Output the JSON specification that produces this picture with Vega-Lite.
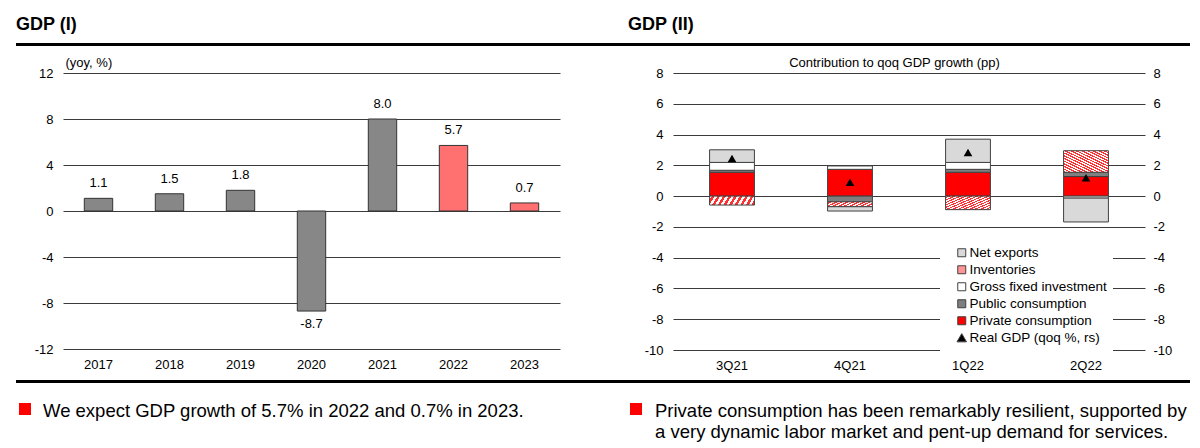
{
  "$schema": "https://vega.github.io/schema/vega-lite/v6.json",
  "background": "white",
  "padding": {"left": 16, "top": 16, "right": 0, "bottom": 0},
  "spacing": 10,
  "align": "none",
  "vconcat": [
    {
      "spacing": 0,
      "hconcat": [
        {
          "width": 612, "height": 3,
          "view": {"fill": "#000000", "stroke": null},
          "title": {"text": "GDP (I)", "anchor": "start", "fontSize": 18, "fontWeight": "bold", "color": "#000000", "baseline": "alphabetic", "offset": -5, "font": "Liberation Sans"},
          "data": {"values": []},
          "mark": {"type": "text", "text": ""},
          "encoding": {}
        },
        {
          "width": 562, "height": 3,
          "view": {"fill": "#000000", "stroke": null},
          "title": {"text": "GDP (II)", "anchor": "start", "fontSize": 18, "fontWeight": "bold", "color": "#000000", "baseline": "alphabetic", "offset": -5, "font": "Liberation Sans"},
          "data": {"values": []},
          "mark": {"type": "text", "text": ""},
          "encoding": {}
        }
      ]
    },
    {
      "spacing": 8,
      "align": "none",
      "vconcat": [
        {
          "spacing": 0,
          "hconcat": [
            {
              "width": 1, "height": 1,
              "data": {"values": []},
              "mark": {"type": "text", "text": ""},
              "encoding": {}
            },
            {
              "spacing": 40,
              "resolve": {"scale": {"color": "independent"}},
              "hconcat": [
                {
                  "width": 497, "height": 276,
                  "data": {"values": [
                    {"year": "2017", "gdp": 1.1, "type": "Actual"},
                    {"year": "2018", "gdp": 1.5, "type": "Actual"},
                    {"year": "2019", "gdp": 1.8, "type": "Actual"},
                    {"year": "2020", "gdp": -8.7, "type": "Actual"},
                    {"year": "2021", "gdp": 8.0, "type": "Actual"},
                    {"year": "2022", "gdp": 5.7, "type": "Forecast"},
                    {"year": "2023", "gdp": 0.7, "type": "Forecast"}
                  ]},
                  "layer": [
                    {
                      "mark": {"type": "bar", "stroke": "#333333", "strokeWidth": 1},
                      "encoding": {
                        "x": {"field": "year", "type": "ordinal", "scale": {"paddingInner": 0.6, "paddingOuter": 0.3}, "axis": {"title": null, "labelAngle": 0, "labelPadding": 9}},
                        "y": {"field": "gdp", "type": "quantitative", "scale": {"domain": [-12, 12], "nice": false},
                          "axis": {"values": [-12, -8, -4, 0, 4, 8, 12], "title": "(yoy, %)", "titleAngle": 0, "titleX": 2, "titleY": -11, "titleAlign": "left", "titleBaseline": "middle", "titleFontSize": 13, "titleFontWeight": "normal", "titleColor": "#000000", "labelPadding": 10, "minExtent": 46}},
                        "color": {"field": "type", "type": "nominal", "scale": {"domain": ["Actual", "Forecast"], "range": ["#878787", "#ff7070"]}, "legend": null}
                      }
                    },
                    {
                      "transform": [{"filter": "datum.gdp >= 0"}],
                      "mark": {"type": "text", "fontSize": 13, "color": "#000000", "baseline": "bottom", "dy": -8},
                      "encoding": {
                        "x": {"field": "year", "type": "ordinal"},
                        "y": {"field": "gdp", "type": "quantitative"},
                        "text": {"field": "gdp", "type": "quantitative", "format": ".1f"}
                      }
                    },
                    {
                      "transform": [{"filter": "datum.gdp < 0"}],
                      "mark": {"type": "text", "fontSize": 13, "color": "#000000", "baseline": "top", "dy": 7},
                      "encoding": {
                        "x": {"field": "year", "type": "ordinal"},
                        "y": {"field": "gdp", "type": "quantitative"},
                        "text": {"field": "gdp", "type": "quantitative", "format": ".1f"}
                      }
                    }
                  ]
                },
                {
                  "width": 472, "height": 277,
                  "layer": [
                    {
                      "data": {"values": [
                        {"q": "3Q21", "series": "Private consumption", "value": 1.55},
                        {"q": "3Q21", "series": "Public consumption", "value": 0.13},
                        {"q": "3Q21", "series": "Gross fixed investment", "value": 0.51},
                        {"q": "3Q21", "series": "Inventories", "value": -0.58},
                        {"q": "3Q21", "series": "Net exports", "value": 0.82},
                        {"q": "4Q21", "series": "Private consumption", "value": 1.74},
                        {"q": "4Q21", "series": "Public consumption", "value": -0.37},
                        {"q": "4Q21", "series": "Gross fixed investment", "value": 0.22},
                        {"q": "4Q21", "series": "Inventories", "value": -0.32},
                        {"q": "4Q21", "series": "Net exports", "value": -0.28},
                        {"q": "1Q22", "series": "Private consumption", "value": 1.55},
                        {"q": "1Q22", "series": "Public consumption", "value": 0.19},
                        {"q": "1Q22", "series": "Gross fixed investment", "value": 0.45},
                        {"q": "1Q22", "series": "Inventories", "value": -0.88},
                        {"q": "1Q22", "series": "Net exports", "value": 1.51},
                        {"q": "2Q22", "series": "Private consumption", "value": 1.27},
                        {"q": "2Q22", "series": "Public consumption", "value": 0.28},
                        {"q": "2Q22", "series": "Gross fixed investment", "value": -0.13},
                        {"q": "2Q22", "series": "Inventories", "value": 1.40},
                        {"q": "2Q22", "series": "Net exports", "value": -1.55}
                      ]},
                      "transform": [{"window": [{"op": "row_number", "as": "stack_rank"}], "groupby": ["q"]}],
                      "mark": {"type": "bar", "stroke": "#404040", "strokeWidth": 1},
                      "encoding": {
                        "x": {"field": "q", "type": "ordinal", "sort": ["3Q21", "4Q21", "1Q22", "2Q22"], "scale": {"paddingInner": 0.62, "paddingOuter": 0.31}, "axis": {"title": null, "labelAngle": 0, "labelPadding": 9}},
                        "y": {"field": "value", "type": "quantitative", "stack": "zero", "scale": {"domain": [-10, 8], "nice": false},
                          "axis": {"values": [-10, -8, -6, -4, -2, 0, 2, 4, 6, 8], "title": "Contribution to qoq GDP growth (pp)", "titleAngle": 0, "titleX": 221, "titleY": -11, "titleAlign": "center", "titleBaseline": "middle", "titleFontSize": 13, "titleFontWeight": "normal", "titleColor": "#000000", "labelPadding": 10, "minExtent": 73}},
                        "order": {"field": "stack_rank", "type": "quantitative"},
                        "color": {
                          "condition": {"test": "datum.series === 'Inventories'", "value": {"gradient": "linear", "x1": 0, "y1": 1, "x2": 1, "y2": 0, "stops": [
                                {"offset": 0, "color": "#ff3030"}, {"offset": 0.03125, "color": "#ff3030"},
                                {"offset": 0.03125, "color": "#ffffff"}, {"offset": 0.0625, "color": "#ffffff"},
                                {"offset": 0.0625, "color": "#ff3030"}, {"offset": 0.09375, "color": "#ff3030"},
                                {"offset": 0.09375, "color": "#ffffff"}, {"offset": 0.125, "color": "#ffffff"},
                                {"offset": 0.125, "color": "#ff3030"}, {"offset": 0.15625, "color": "#ff3030"},
                                {"offset": 0.15625, "color": "#ffffff"}, {"offset": 0.1875, "color": "#ffffff"},
                                {"offset": 0.1875, "color": "#ff3030"}, {"offset": 0.21875, "color": "#ff3030"},
                                {"offset": 0.21875, "color": "#ffffff"}, {"offset": 0.25, "color": "#ffffff"},
                                {"offset": 0.25, "color": "#ff3030"}, {"offset": 0.28125, "color": "#ff3030"},
                                {"offset": 0.28125, "color": "#ffffff"}, {"offset": 0.3125, "color": "#ffffff"},
                                {"offset": 0.3125, "color": "#ff3030"}, {"offset": 0.34375, "color": "#ff3030"},
                                {"offset": 0.34375, "color": "#ffffff"}, {"offset": 0.375, "color": "#ffffff"},
                                {"offset": 0.375, "color": "#ff3030"}, {"offset": 0.40625, "color": "#ff3030"},
                                {"offset": 0.40625, "color": "#ffffff"}, {"offset": 0.4375, "color": "#ffffff"},
                                {"offset": 0.4375, "color": "#ff3030"}, {"offset": 0.46875, "color": "#ff3030"},
                                {"offset": 0.46875, "color": "#ffffff"}, {"offset": 0.5, "color": "#ffffff"},
                                {"offset": 0.5, "color": "#ff3030"}, {"offset": 0.53125, "color": "#ff3030"},
                                {"offset": 0.53125, "color": "#ffffff"}, {"offset": 0.5625, "color": "#ffffff"},
                                {"offset": 0.5625, "color": "#ff3030"}, {"offset": 0.59375, "color": "#ff3030"},
                                {"offset": 0.59375, "color": "#ffffff"}, {"offset": 0.625, "color": "#ffffff"},
                                {"offset": 0.625, "color": "#ff3030"}, {"offset": 0.65625, "color": "#ff3030"},
                                {"offset": 0.65625, "color": "#ffffff"}, {"offset": 0.6875, "color": "#ffffff"},
                                {"offset": 0.6875, "color": "#ff3030"}, {"offset": 0.71875, "color": "#ff3030"},
                                {"offset": 0.71875, "color": "#ffffff"}, {"offset": 0.75, "color": "#ffffff"},
                                {"offset": 0.75, "color": "#ff3030"}, {"offset": 0.78125, "color": "#ff3030"},
                                {"offset": 0.78125, "color": "#ffffff"}, {"offset": 0.8125, "color": "#ffffff"},
                                {"offset": 0.8125, "color": "#ff3030"}, {"offset": 0.84375, "color": "#ff3030"},
                                {"offset": 0.84375, "color": "#ffffff"}, {"offset": 0.875, "color": "#ffffff"},
                                {"offset": 0.875, "color": "#ff3030"}, {"offset": 0.90625, "color": "#ff3030"},
                                {"offset": 0.90625, "color": "#ffffff"}, {"offset": 0.9375, "color": "#ffffff"},
                                {"offset": 0.9375, "color": "#ff3030"}, {"offset": 0.96875, "color": "#ff3030"},
                                {"offset": 0.96875, "color": "#ffffff"}, {"offset": 1, "color": "#ffffff"}
                              ]}},
                          "field": "series", "type": "nominal",
                          "scale": {
                            "domain": ["Net exports", "Inventories", "Gross fixed investment", "Public consumption", "Private consumption", "Real GDP (qoq %, rs)"],
                            "range": ["#d9d9d9", "#ff9494", "#ffffff", "#7f7f7f", "#ff0000", "#000000"]
                          },
                          "legend": {
                            "title": null, "orient": "none", "legendX": 267, "legendY": 167,
                            "fillColor": "#ffffff", "padding": 6, "symbolOffset": 9,
                            "labelFont": "Liberation Sans", "labelFontSize": 13.5, "labelColor": "#000000", "labelOffset": 1,
                            "rowPadding": 2, "symbolSize": 64, "symbolStrokeColor": "#404040", "symbolStrokeWidth": 1,
                            "encode": {"symbols": {"update": {
                              "shape": {"signal": "datum.value === 'Real GDP (qoq %, rs)' ? 'triangle-up' : 'square'"},
                              "size": {"signal": "datum.value === 'Real GDP (qoq %, rs)' ? 90 : 64"}
                            }}}
                          }
                        }
                      }
                    },
                    {
                      "data": {"values": [
                        {"q": "3Q21", "gdp": 2.45},
                        {"q": "4Q21", "gdp": 0.9},
                        {"q": "1Q22", "gdp": 2.84},
                        {"q": "2Q22", "gdp": 1.2}
                      ]},
                      "mark": {"type": "point", "shape": "triangle-up", "filled": true, "fill": "#000000", "stroke": null, "size": 75, "opacity": 1},
                      "encoding": {
                        "x": {"field": "q", "type": "ordinal", "sort": ["3Q21", "4Q21", "1Q22", "2Q22"]},
                        "y": {"field": "gdp", "type": "quantitative", "scale": {"domain": [-10, 8], "nice": false},
                          "axis": {"orient": "right", "grid": false, "values": [-10, -8, -6, -4, -2, 0, 2, 4, 6, 8], "title": null, "labelPadding": 8}}
                      }
                    }
                  ],
                  "resolve": {"axis": {"y": "independent"}}
                }
              ]
            }
          ]
        },
        {
          "spacing": 13,
          "align": "none",
          "vconcat": [
            {
              "width": 1174, "height": 3,
              "view": {"fill": "#000000", "stroke": null},
              "data": {"values": []},
              "mark": {"type": "text", "text": ""},
              "encoding": {}
            },
            {
              "spacing": 0,
              "hconcat": [
                {
                  "width": 600, "height": 50,
                  "data": {"values": [{"note": "We expect GDP growth of 5.7% in 2022 and 0.7% in 2023."}]},
                  "layer": [
                    {"mark": {"type": "point", "shape": "square", "filled": true, "color": "#ff0000", "size": 144, "opacity": 1}, "encoding": {"x": {"value": 9}, "y": {"value": 13}}},
                    {"mark": {"type": "text", "align": "left", "baseline": "alphabetic", "fontSize": 18.5, "color": "#000000", "font": "Liberation Sans"}, "encoding": {"x": {"value": 27}, "y": {"value": 20.5}, "text": {"field": "note"}}}
                  ]
                },
                {
                  "width": 574, "height": 50,
                  "data": {"values": [{"note": "Private consumption has been remarkably resilient, supported by\na very dynamic labor market and pent-up demand for services."}]},
                  "layer": [
                    {"mark": {"type": "point", "shape": "square", "filled": true, "color": "#ff0000", "size": 144, "opacity": 1}, "encoding": {"x": {"value": 20}, "y": {"value": 13}}},
                    {"mark": {"type": "text", "align": "left", "baseline": "alphabetic", "fontSize": 18.5, "color": "#000000", "font": "Liberation Sans", "lineBreak": "\n", "lineHeight": 21}, "encoding": {"x": {"value": 39}, "y": {"value": 20.5}, "text": {"field": "note"}}}
                  ]
                }
              ]
            }
          ]
        }
      ]
    }
  ],
  "config": {
    "font": "Liberation Sans",
    "locale": {"number": {"decimal": ".", "thousands": ",", "grouping": [3], "currency": ["$", ""], "minus": "-"}},
    "view": {"stroke": null},
    "axis": {"domain": false, "ticks": false, "labelFont": "Liberation Sans", "labelFontSize": 13, "labelColor": "#000000", "gridColor": "#3a3a3a", "gridWidth": 1, "gridOpacity": 1, "titleFont": "Liberation Sans"},
    "text": {"font": "Liberation Sans"}
  }
}
